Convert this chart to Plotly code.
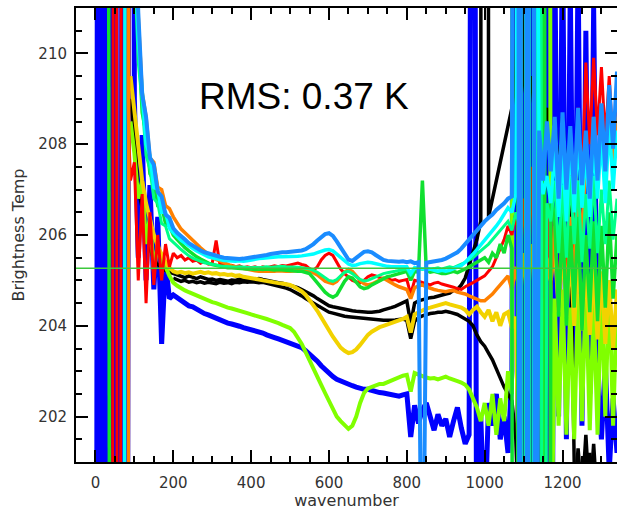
import plotly.graph_objects as go

N = None

# spectral sampling grid (cm-1)
wavenumber = list(range(0, 1350, 10))

# brightness temperature spectra (K), one list per colour, rows of 100 cm-1
blue = ([168, 262, 150, 248, 171, 236, 158, 229, 184, 241]
        + [209.0, 205.5, 208.2, 205.0, 207.1, 204.8, 206.4, 203.6, 205.4, 204.6]
        + [204.68, 204.62, 204.55, 204.52, 204.44, 204.42, 204.36, 204.33, 204.27, 204.24]
        + [204.2, 204.15, 204.12, 204.1, 204.06, 204.04, 204.0, 203.99, 203.96, 203.94]
        + [203.92, 203.9, 203.86, 203.84, 203.8, 203.78, 203.74, 203.71, 203.68, 203.66]
        + [203.63, 203.6, 203.55, 203.52, 203.45, 203.38, 203.3, 203.22, 203.12, 203.03]
        + [202.95, 202.88, 202.82, 202.78, 202.74, 202.7, 202.68, 202.65, 202.62, 202.6]
        + [202.6, 202.57, 202.55, 202.53, 202.52, 202.5, 202.5, 202.47, 202.45, 202.48]
        + [202.5, 201.55, 202.25, 201.85, 202.15, 202.3, 202.0, 201.7, 202.05, 201.8]
        + [201.95, 201.55, 201.9, 202.2, 201.75, 201.4, 201.6, 232.0, 196.0, 202.0]
        + [199.5, 202.3, 201.8, 202.5, 201.5, 202.0, 201.2, 203.0, 235.0, 170.0]
        + [250.0, 160.0, 245.0, 175.0, 238.0, 166.0, 242.0, 190.0, 212.5, 202.0]
        + [213.0, 201.5, 211.5, 202.5, 212.0, 201.8, 210.5, 202.5, 211.0, 202.8]
        + [201.5, 203.2, 200.8, 202.4, 201.2])

black_low = ([N] * 10 + [N] * 10
             + [205.05, 205.02, 204.98, 205.0, 204.96, 204.98, 204.95, 204.97, 204.94, 204.96]
             + [204.95, 204.93, 204.96, 204.94, 204.95, 204.93, 204.96, 204.95, 204.97, 204.96]
             + [204.97, 204.96, 204.95, 204.96, 204.94, 204.92, 204.9, 204.88, 204.85, 204.83]
             + [204.8, 204.76, 204.72, 204.66, 204.6, 204.55, 204.49, 204.43, 204.38, 204.34]
             + [204.3, 204.28, 204.25, 204.23, 204.21, 204.2, 204.19, 204.18, 204.17, 204.16]
             + [204.15, 204.14, 204.14, 204.13, 204.12, 204.12, 204.12, 204.13, 204.14, 204.15]
             + [204.12, 203.72, 204.1, 204.18, 204.22, 204.25, 204.27, 204.28, 204.3, 204.3]
             + [204.32, 204.3, 204.28, 204.25, 204.2, 204.15, 204.1, 204.0, 203.8, 203.65]
             + [203.55, 203.4, 203.25, 203.05, 202.85, 202.65, 202.5, 202.35, 201.5, 199.0]
             + [200.2, 199.8, 200.5, 199.6, 200.3, 199.9, 200.4, 199.7, 200.2, 199.8]
             + [200.6, 199.9, 200.3, 200.0, 201.3, 200.2, 201.6, 200.1, 201.4, 200.0]
             + [200.5, 199.8, 200.2, 199.9, 200.3])

black_high = ([N, N, N, N, N, N, N, N, N, 209.0]
              + [208.2, 207.0, 206.6, 206.0, 205.7, 205.45, 205.35, 205.28, 205.22, 205.18]
              + [205.15, 205.12, 205.1, 205.06, 205.1, 205.07, 205.04, 205.08, 205.05, 205.02]
              + [205.03, 205.0, 205.02, 205.0, 204.98, 205.01, 205.0, 205.03, 205.01, 205.02]
              + [205.03, 205.02, 205.04, 205.02, 205.0, 204.98, 204.97, 204.95, 204.94, 204.92]
              + [204.9, 204.87, 204.84, 204.8, 204.76, 204.72, 204.66, 204.6, 204.54, 204.48]
              + [204.44, 204.42, 204.4, 204.38, 204.36, 204.34, 204.33, 204.32, 204.31, 204.3]
              + [204.3, 204.3, 204.31, 204.32, 204.35, 204.37, 204.4, 204.43, 204.47, 204.5]
              + [204.55, 204.05, 204.5, 204.55, 204.58, 204.6, 204.62, 204.63, 204.66, 204.68]
              + [204.7, 204.72, 204.78, 204.8, 204.9, 205.05, 205.35, 205.6, 205.9, 206.3]
              + [400.0, 206.4, 206.8, 207.2, 207.6, 208.0, 208.4, 208.8, 209.5, 213.0]
              + [209.5, 208.8, 209.5, 208.5, 209.0, 208.3, 208.8, 208.2, 208.5, 207.3]
              + [208.6, 207.2, 206.5, 201.0, 199.5, 200.8, 199.8, 201.2, 199.9, 200.5]
              + [199.8, 200.6, 199.9, 200.4, 199.7])

lime = ([N, N, N, N, N, N, N, N, N, 208.5]
        + [207.8, 206.8, 207.2, 205.8, 206.4, 205.2, 205.8, 205.4, 205.3, 205.1]
        + [204.95, 204.88, 204.82, 204.78, 204.74, 204.7, 204.67, 204.64, 204.6, 204.56]
        + [204.52, 204.5, 204.46, 204.43, 204.4, 204.38, 204.36, 204.33, 204.3, 204.28]
        + [204.25, 204.23, 204.2, 204.18, 204.15, 204.12, 204.1, 204.06, 204.02, 203.99]
        + [203.95, 203.87, 203.75, 203.6, 203.42, 203.25, 203.08, 202.9, 202.7, 202.52]
        + [202.35, 202.18, 202.0, 201.9, 201.8, 201.73, 201.8, 202.0, 202.3, 202.52]
        + [202.62, 202.66, 202.7, 202.72, 202.72, 202.76, 202.8, 202.84, 202.88, 202.9]
        + [202.92, 202.55, 202.96, 202.92, 202.88, 202.86, 202.84, 202.85, 202.82, 202.86]
        + [202.88, 202.84, 202.8, 202.78, 202.75, 202.7, 202.6, 202.4, 202.2, 201.9]
        + [202.3, 201.8, 202.5, 201.6, 202.4, 201.9, 203.0, 202.5, 300.0, 195.0]
        + [300.0, 195.0, 290.0, 196.0, 305.0, 194.0, 295.0, 197.0, 204.6, 201.8]
        + [204.8, 201.6, 204.4, 201.5, 204.7, 201.9, 204.9, 201.7, 204.5, 201.6]
        + [204.8, 202.0, 205.0, 201.8, 204.6])

yellow = ([N, N, N, N, N, N, N, N, N, 209.5]
          + [208.7, 207.9, 207.2, 206.7, 206.3, 206.0, 205.75, 205.55, 205.4, 205.28]
          + [205.2, 205.17, 205.19, 205.16, 205.18, 205.15, 205.17, 205.19, 205.16, 205.18]
          + [205.15, 205.16, 205.13, 205.14, 205.12, 205.13, 205.1, 205.11, 205.08, 205.07]
          + [205.05, 205.04, 205.02, 205.0, 204.98, 204.97, 204.95, 204.94, 204.93, 204.92]
          + [204.9, 204.86, 204.82, 204.76, 204.68, 204.58, 204.45, 204.33, 204.2, 204.05]
          + [203.9, 203.76, 203.62, 203.52, 203.45, 203.4, 203.42, 203.48, 203.58, 203.7]
          + [203.8, 203.87, 203.93, 203.97, 204.0, 204.03, 204.05, 204.08, 204.1, 204.15]
          + [204.2, 203.85, 204.25, 204.3, 204.35, 204.38, 204.4, 204.43, 204.45, 204.48]
          + [204.5, 204.47, 204.45, 204.42, 204.4, 204.35, 204.25, 204.35, 204.42, 204.3]
          + [204.2, 204.35, 204.1, 204.3, 204.0, 204.25, 204.3, 203.95, 204.2, 199.5]
          + [280.0, 196.0, 278.0, 197.0, 205.6, 204.8, 205.3, 205.0, 205.8, 204.3]
          + [205.9, 204.2, 205.7, 204.0, 205.6, 203.9, 205.4, 203.8, 205.3, 203.7]
          + [205.2, 203.6, 205.0, 203.5, 204.8])

red = ([N, N, N, N, 165.0, 250.0, 158.0, 245.0, 209.5, 207.2]
       + [207.6, 205.0, 206.9, 204.5, 206.5, 204.9, 206.0, 205.0, 205.8, 205.3]
       + [205.6, 205.5, 205.55, 205.45, 205.5, 205.42, 205.45, 205.38, 205.42, 205.36]
       + [205.38, 205.88, 205.34, 205.36, 205.3, 205.33, 205.3, 205.32, 205.28, 205.3]
       + [205.28, 205.3, 205.27, 205.3, 205.28, 205.3, 205.32, 205.3, 205.33, 205.32]
       + [205.34, 205.36, 205.38, 205.35, 205.33, 205.26, 205.22, 205.3, 205.45, 205.55]
       + [205.6, 205.55, 205.4, 205.25, 205.15, 205.08, 205.0, 204.97, 204.95, 205.0]
       + [205.08, 205.12, 205.1, 205.06, 205.04, 205.05, 205.0, 205.02, 204.98, 205.0]
       + [205.02, 204.7, 205.0, 204.98, 204.95, 204.92, 204.9, 204.94, 204.96, 204.92]
       + [204.9, 204.87, 204.85, 204.82, 204.8, 204.86, 204.9, 204.95, 205.0, 205.05]
       + [205.1, 205.2, 205.3, 205.5, 205.7, 205.9, 206.2, 206.0, 206.5, 205.5]
       + [206.8, 205.0, 207.5, 204.5, 206.0, 205.2, 206.5, 204.8, 206.5, 204.5]
       + [206.3, 204.8, 207.8, 205.5, 208.8, 207.0, 209.8, 208.0, 209.9, 208.2]
       + [209.7, 208.1, 209.5, 207.9, 209.2])

orange = ([N, N, N, N, N, N, N, N, 160.0, 250.0]
          + [213.5, 210.8, 209.15, 208.6, 207.7, 207.6, 207.05, 207.0, 206.65, 206.58]
          + [206.4, 206.26, 206.13, 206.05, 205.96, 205.87, 205.8, 205.72, 205.65, 205.57]
          + [205.5, 205.46, 205.42, 205.38, 205.35, 205.32, 205.3, 205.28, 205.26, 205.24]
          + [205.22, 205.21, 205.2, 205.2, 205.19, 205.2, 205.2, 205.21, 205.2, 205.2]
          + [205.2, 205.21, 205.22, 205.22, 205.22, 205.2, 205.17, 205.12, 205.04, 204.98]
          + [204.95, 204.93, 204.98, 205.08, 205.18, 205.24, 205.2, 205.1, 205.0, 204.93]
          + [204.9, 204.92, 204.97, 205.02, 205.05, 205.0, 204.94, 204.9, 204.86, 204.83]
          + [204.8, 204.6, 204.84, 204.88, 204.9, 204.86, 204.82, 204.8, 204.78, 204.76]
          + [204.75, 204.77, 204.78, 204.74, 204.72, 204.7, 204.66, 204.62, 204.58, 204.55]
          + [204.55, 204.62, 204.7, 204.8, 204.9, 205.0, 205.1, 204.8, 205.3, 204.6]
          + [205.6, 204.3, 205.8, 204.9, 230.0, 204.6, 205.5, 205.0, 206.2, 204.4]
          + [206.0, 204.6, 206.4, 204.8, 207.2, 205.6, 208.0, 206.8, 208.6, 207.2]
          + [208.7, 207.1, 208.8, 207.4, 208.6])

green = ([N, N, N, 240.0, 170.0, N, N, N, N, 213.5]
         + [212.5, 210.5, 208.7, 208.25, 207.35, 207.2, 206.65, 206.65, 206.25, 206.2]
         + [206.0, 205.9, 205.8, 205.72, 205.65, 205.58, 205.52, 205.47, 205.42, 205.38]
         + [205.35, 205.33, 205.31, 205.3, 205.28, 205.28, 205.27, 205.26, 205.26, 205.25]
         + [205.25, 205.24, 205.25, 205.24, 205.25, 205.24, 205.23, 205.24, 205.23, 205.22]
         + [205.22, 205.21, 205.2, 205.2, 205.18, 205.15, 205.05, 204.95, 204.85, 204.74]
         + [204.67, 204.63, 204.68, 204.82, 204.98, 205.08, 205.05, 204.96, 204.86, 204.82]
         + [204.84, 204.9, 204.95, 205.0, 205.05, 205.08, 205.1, 205.12, 205.15, 205.17]
         + [205.2, 205.0, 205.2, 205.18, 207.2, 205.22, 205.18, 205.2, 205.17, 205.15]
         + [205.15, 205.18, 205.2, 205.17, 205.2, 205.25, 205.3, 205.35, 205.4, 205.45]
         + [205.5, 205.4, 205.6, 205.5, 205.8, 205.6, 206.0, 205.7, 120.0, 280.0]
         + [120.0, 280.0, 125.0, 275.0, 118.0, 278.0, 122.0, 207.0, 206.3, 204.2]
         + [206.5, 204.0, 206.2, 204.4, 206.4, 203.9, 206.0, 204.3, 206.3, 204.1]
         + [206.2, 204.4, 206.5, 204.6, 206.0])

spring = ([N, N, N, N, N, N, N, N, N, 213.0]
          + [212.0, 209.8, 208.9, 207.75, 207.45, 206.8, 206.7, 206.25, 206.2, 205.92]
          + [205.85, 205.76, 205.68, 205.6, 205.54, 205.49, 205.45, 205.42, 205.39, 205.37]
          + [205.35, 205.33, 205.32, 205.31, 205.3, 205.3, 205.29, 205.3, 205.29, 205.28]
          + [205.28, 205.29, 205.28, 205.29, 205.3, 205.29, 205.3, 205.3, 205.31, 205.3]
          + [205.3, 205.3, 205.29, 205.28, 205.27, 205.25, 205.22, 205.18, 205.12, 205.05]
          + [205.0, 204.98, 205.02, 205.1, 205.18, 205.2, 205.15, 205.08, 205.02, 204.99]
          + [205.0, 205.04, 205.08, 205.12, 205.15, 205.17, 205.18, 205.2, 205.22, 205.23]
          + [205.25, 205.1, 205.25, 205.26, 205.24, 205.27, 205.25, 205.26, 205.28, 205.25]
          + [205.27, 205.3, 205.28, 205.32, 205.35, 205.4, 205.45, 205.5, 205.58, 205.65]
          + [205.72, 205.8, 205.9, 206.0, 206.1, 206.2, 206.3, 206.1, 206.5, 206.2]
          + [250.0, 175.0, 252.0, 174.0, 248.0, 176.0, 206.7, 206.3, 207.2, 205.6]
          + [207.1, 205.5, 207.3, 205.8, 207.2, 205.4, 206.9, 205.7, 207.3, 205.6]
          + [207.0, 205.8, 207.2, 205.9, 206.8])

cyan = ([N, N, N, N, N, N, N, 160.0, 250.0, 216.0]
        + [213.2, 210.3, 209.2, 208.0, 207.75, 207.05, 207.0, 206.5, 206.5, 206.15]
        + [206.05, 205.96, 205.88, 205.82, 205.75, 205.7, 205.65, 205.6, 205.55, 205.52]
        + [205.5, 205.47, 205.46, 205.44, 205.43, 205.42, 205.42, 205.43, 205.42, 205.43]
        + [205.45, 205.46, 205.48, 205.49, 205.5, 205.5, 205.51, 205.52, 205.52, 205.52]
        + [205.52, 205.53, 205.53, 205.54, 205.55, 205.56, 205.58, 205.61, 205.65, 205.67]
        + [205.68, 205.65, 205.58, 205.5, 205.42, 205.36, 205.33, 205.34, 205.37, 205.39]
        + [205.4, 205.39, 205.37, 205.34, 205.32, 205.31, 205.3, 205.3, 205.29, 205.3]
        + [205.3, 205.15, 205.28, 205.27, 205.26, 205.24, 205.25, 205.22, 205.2, 205.22]
        + [205.2, 205.22, 205.25, 205.28, 205.33, 205.4, 205.48, 205.58, 205.68, 205.78]
        + [205.9, 205.98, 206.1, 206.2, 206.32, 206.45, 206.6, 206.5, 206.9, 225.0]
        + [140.0, 226.0, 142.0, 224.0, 207.5, 206.9, 207.3, 206.7, 207.9, 206.4]
        + [207.8, 206.3, 208.1, 206.5, 208.2, 206.6, 207.9, 206.4, 208.0, 206.8]
        + [208.2, 206.7, 208.5, 207.0, 208.3])

azure = ([N, N, N, N, N, N, N, N, N, 215.0]
         + [213.5, 210.9, 209.1, 208.6, 207.7, 207.55, 206.95, 206.85, 206.45, 206.38]
         + [206.15, 206.05, 205.96, 205.9, 205.82, 205.76, 205.71, 205.66, 205.62, 205.59]
         + [205.56, 205.54, 205.52, 205.5, 205.49, 205.48, 205.47, 205.47, 205.48, 205.49]
         + [205.5, 205.51, 205.52, 205.54, 205.56, 205.58, 205.6, 205.61, 205.62, 205.62]
         + [205.63, 205.63, 205.64, 205.66, 205.69, 205.74, 205.8, 205.88, 205.96, 206.02]
         + [206.04, 205.98, 205.86, 205.72, 205.56, 205.46, 205.43, 205.5, 205.58, 205.63]
         + [205.64, 205.62, 205.56, 205.5, 205.45, 205.43, 205.42, 205.42, 205.41, 205.42]
         + [205.4, 205.42, 205.38, 205.4, 196.0, 205.39, 205.4, 205.42, 205.44, 205.45]
         + [205.48, 205.52, 205.56, 205.62, 205.7, 205.8, 205.9, 206.0, 206.12, 206.22]
         + [206.3, 206.38, 206.45, 206.55, 206.62, 206.7, 206.8, 206.85, 260.0, 190.0]
         + [262.0, 189.0, 258.0, 191.0, 208.3, 207.2, 208.5, 207.4, 208.6, 206.8]
         + [208.7, 207.0, 208.4, 206.9, 208.8, 207.1, 208.3, 206.8, 208.6, 207.2]
         + [208.9, 207.4, 209.3, 207.9, 209.6])

mean_temp = 205.27
rms_kelvin = 0.37

# drawing order: first entry is at the bottom; widths give the noisy bands their body
spectra = [
    (blue, "#0000ff", 5.0),
    (black_low, "#000000", 3.5),
    (black_high, "#000000", 3.5),
    (lime, "#80ff00", 4.0),
    (yellow, "#f2d200", 4.0),
    (red, "#ff0000", 3.0),
    (orange, "#ff8000", 3.5),
    (green, "#10e030", 3.5),
    (spring, "#00ff88", 3.0),
    (cyan, "#00ffff", 3.5),
    (azure, "#1a8cff", 4.0),
]

fig = go.Figure()
for values, colour, width in spectra:
    assert len(values) == len(wavenumber)
    fig.add_trace(go.Scatter(
        x=wavenumber, y=values, mode="lines",
        line=dict(color=colour, width=width),
        showlegend=False, hoverinfo="skip",
    ))

fig.add_hline(y=mean_temp, line=dict(color="#3cc83c", width=1.5))

fig.add_annotation(
    text=f"RMS: {rms_kelvin:.2f} K",
    xref="paper", yref="paper", x=0.4214, y=0.806,
    xanchor="center", yanchor="middle", showarrow=False,
    font=dict(family="Liberation Sans, Arial", size=37, color="#000000"),
)

tick_font = dict(family="DejaVu Sans", size=15, color="#333333")
axis_common = dict(
    showline=True, linecolor="#000000", linewidth=2,
    mirror="ticks", ticks="inside", tickcolor="#000000",
    tickwidth=1.6, ticklen=12, showgrid=False, zeroline=False,
    tickfont=tick_font,
)

fig.update_xaxes(
    range=[-50, 1340], tick0=0, dtick=200,
    minor=dict(dtick=50, ticks="inside", ticklen=6, tickcolor="#000000", tickwidth=1.6, showgrid=False),
    title=dict(text="wavenumber", font=dict(family="DejaVu Sans", size=16, color="#333333"), standoff=7),
    ticklabelstandoff=6,
    **axis_common,
)
fig.update_yaxes(
    range=[201, 211], tick0=202, dtick=2,
    minor=dict(dtick=0.5, ticks="inside", ticklen=6, tickcolor="#000000", tickwidth=1.6, showgrid=False),
    title=dict(text="Brightness Temp", font=dict(family="DejaVu Sans", size=16, color="#333333"), standoff=10),
    ticklabelstandoff=4,
    **axis_common,
)

fig.update_layout(
    width=617, height=510,
    margin=dict(l=76, r=0, t=8, b=48, autoexpand=False),
    paper_bgcolor="#ffffff", plot_bgcolor="#ffffff",
)

fig.write_html("out.html")
